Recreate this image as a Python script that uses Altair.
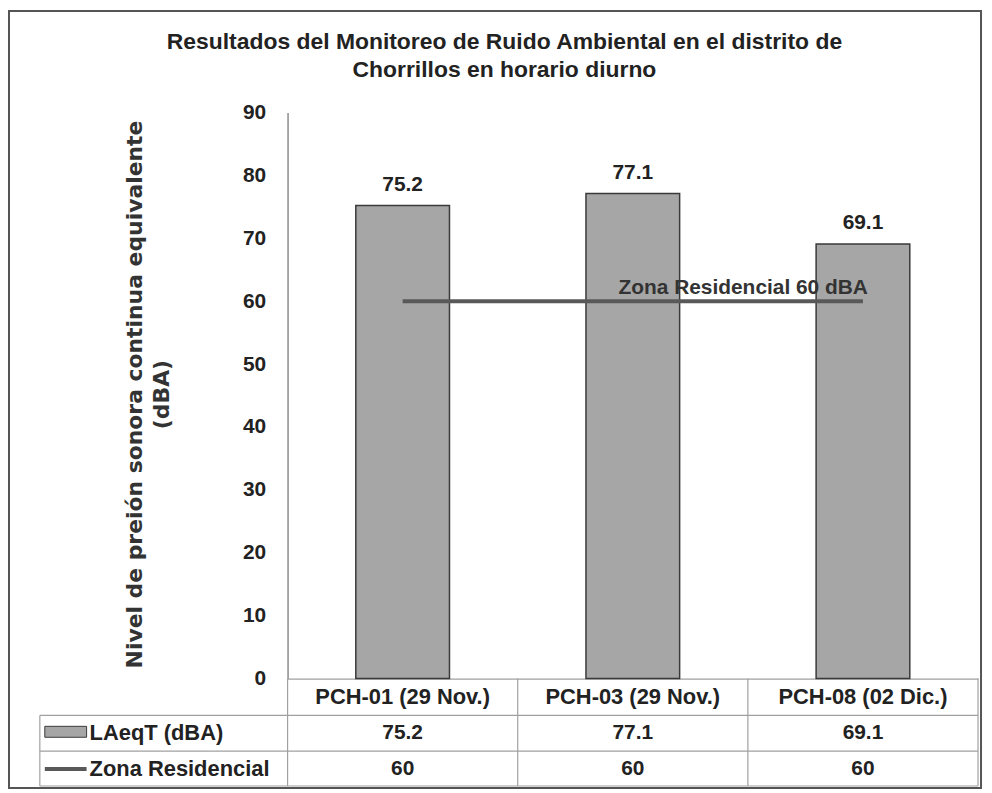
import altair as alt
import pandas as pd

# ---- data ----
categorias = ["PCH-01 (29 Nov.)", "PCH-03 (29 Nov.)", "PCH-08 (02 Dic.)"]
laeqt = [75.2, 77.1, 69.1]
zona_residencial = [60, 60, 60]
y_ticks = [0, 10, 20, 30, 40, 50, 60, 70, 80, 90]
titulo = ["Resultados del Monitoreo de Ruido Ambiental  en el distrito de",
          "Chorrillos en horario diurno"]
titulo_y = ["Nivel de preión sonora continua equivalente", "(dBA)"]
etiqueta_limite = "Zona Residencial 60 dBA"
serie_barras = "LAeqT (dBA)"
serie_linea = "Zona Residencial"

df = pd.DataFrame({"cat": categorias, "laeq": laeqt, "lim": zona_residencial})
one = pd.DataFrame({"k": [0]})

FONT = "Liberation Sans"
TXT = "#222222"
GRID = "#a0a0a0"
W, H = 694, 569

xscale = alt.Scale(domain=categorias, paddingInner=0, paddingOuter=0)
xaxis = alt.Axis(title=None, labelAngle=0, labelFont=FONT, labelFontSize=22,
                 labelFontWeight="bold", labelColor=TXT, labelPadding=18,
                 labelBaseline="middle", ticks=False, tickSize=0,
                 domainColor=GRID, domainWidth=1.2, labelLimit=240)
yscale = alt.Scale(domain=[0, 90], nice=False, zero=True)
yaxis = alt.Axis(values=y_ticks, title=titulo_y, titleFont="DejaVu Sans", titleFontSize=22,
                 titleFontWeight="bold", titleColor="#333333", titleAngle=270,
                 titleX=-154, titleY=283, titleAlign="center", titleBaseline="middle",
                 titleLineHeight=27, labelFont=FONT, labelFontSize=21,
                 labelFontWeight="bold", labelColor=TXT, labelPadding=22,
                 ticks=False, tickSize=0, grid=False, domainColor="#8c8c8c",
                 domainWidth=1.5)


def X(**kw):
    return alt.X("cat:N", sort=categorias, scale=xscale, axis=xaxis, **kw)


title_mark = alt.Chart(one).mark_text(
    font=FONT, fontSize=23, fontWeight="bold", color=TXT, align="center",
    baseline="middle", lineHeight=28).encode(
    x=alt.value(218), y=alt.value(-71), text=alt.value(titulo))

bars = alt.Chart(df).mark_bar(width={"band": 0.407}, fill="#a6a6a6",
                              stroke="#3a3a3a", strokeWidth=1.5).encode(
    x=X(), y=alt.Y("laeq:Q", scale=yscale, axis=yaxis))

bar_labels = alt.Chart(df).mark_text(dy=-21, font=FONT, fontSize=21, fontWeight="bold",
                                     color=TXT, baseline="middle").encode(
    x=X(), y=alt.Y("laeq:Q", scale=yscale, axis=yaxis),
    text=alt.Text("laeq:Q", format=".1f"))

limit_line = alt.Chart(df).mark_line(color="#595959", strokeWidth=4).encode(
    x=X(), y=alt.Y("lim:Q", scale=yscale, axis=yaxis))

limit_label = alt.Chart(df.iloc[[2]]).mark_text(
    align="right", baseline="middle", dx=5, dy=-13, font=FONT, fontSize=21,
    fontWeight="bold", color="#333333").encode(
    x=X(), y=alt.Y("lim:Q", scale=yscale, axis=yaxis), text=alt.value(etiqueta_limite))

# ---- data table under the chart ----
row_laeq = alt.Chart(df).mark_text(font=FONT, fontSize=21, fontWeight="bold", color=TXT,
                                   baseline="middle").encode(
    x=X(), y=alt.value(624), text=alt.Text("laeq:Q", format=".1f"))
row_lim = alt.Chart(df).mark_text(font=FONT, fontSize=21, fontWeight="bold", color=TXT,
                                  baseline="middle").encode(
    x=X(), y=alt.value(659.5), text=alt.Text("lim:Q"))

leg_names = pd.DataFrame({"serie": [serie_barras, serie_linea], "row": [0, 1]})
leg_text_1 = alt.Chart(leg_names.iloc[[0]]).mark_text(
    align="left", baseline="middle", font=FONT, fontSize=22, fontWeight="bold",
    color=TXT).encode(x=alt.value(-199), y=alt.value(624), text="serie:N")
leg_text_2 = alt.Chart(leg_names.iloc[[1]]).mark_text(
    align="left", baseline="middle", font=FONT, fontSize=22, fontWeight="bold",
    color=TXT).encode(x=alt.value(-199), y=alt.value(659.5), text="serie:N")
swatch_bar = alt.Chart(one).mark_rect(fill="#a6a6a6", stroke="#3a3a3a", strokeWidth=1).encode(
    x=alt.value(-244), x2=alt.value(-202), y=alt.value(617), y2=alt.value(628))
swatch_line = alt.Chart(one).mark_rule(color="#595959", strokeWidth=4).encode(
    x=alt.value(-244), x2=alt.value(-202), y=alt.value(660))

table_rules = []
for yy in [606, 642, 677]:
    table_rules.append(alt.Chart(one).mark_rule(color=GRID, strokeWidth=1.2).encode(
        x=alt.value(-249), x2=alt.value(W), y=alt.value(yy)))
table_rules.append(alt.Chart(one).mark_rule(color=GRID, strokeWidth=1.2).encode(
    x=alt.value(-249), y=alt.value(606), y2=alt.value(677)))
table_rules.append(alt.Chart(one).mark_rule(color=GRID, strokeWidth=1.2).encode(
    x=alt.value(W), y=alt.value(569), y2=alt.value(677)))
table_rules.append(alt.Chart(df).mark_rule(color=GRID, strokeWidth=1.2).encode(
    x=X(bandPosition=0), y=alt.value(569), y2=alt.value(677)))

frame = alt.Chart(one).mark_rect(fill=None, stroke="#555555", strokeWidth=2).encode(
    x=alt.value(-280), x2=alt.value(697), y=alt.value(-102), y2=alt.value(679))

chart = alt.layer(
    frame, *table_rules, bars, limit_line, bar_labels, limit_label,
    row_laeq, row_lim, leg_text_1, leg_text_2, swatch_bar, swatch_line, title_mark
).properties(
    width=W, height=H,
    autosize="none",
    padding={"left": 281, "top": 103, "right": 6, "bottom": 112},
    background="white",
).configure_view(stroke=None)

chart.save("out.html", embed_options={"renderer": "svg", "actions": False})
